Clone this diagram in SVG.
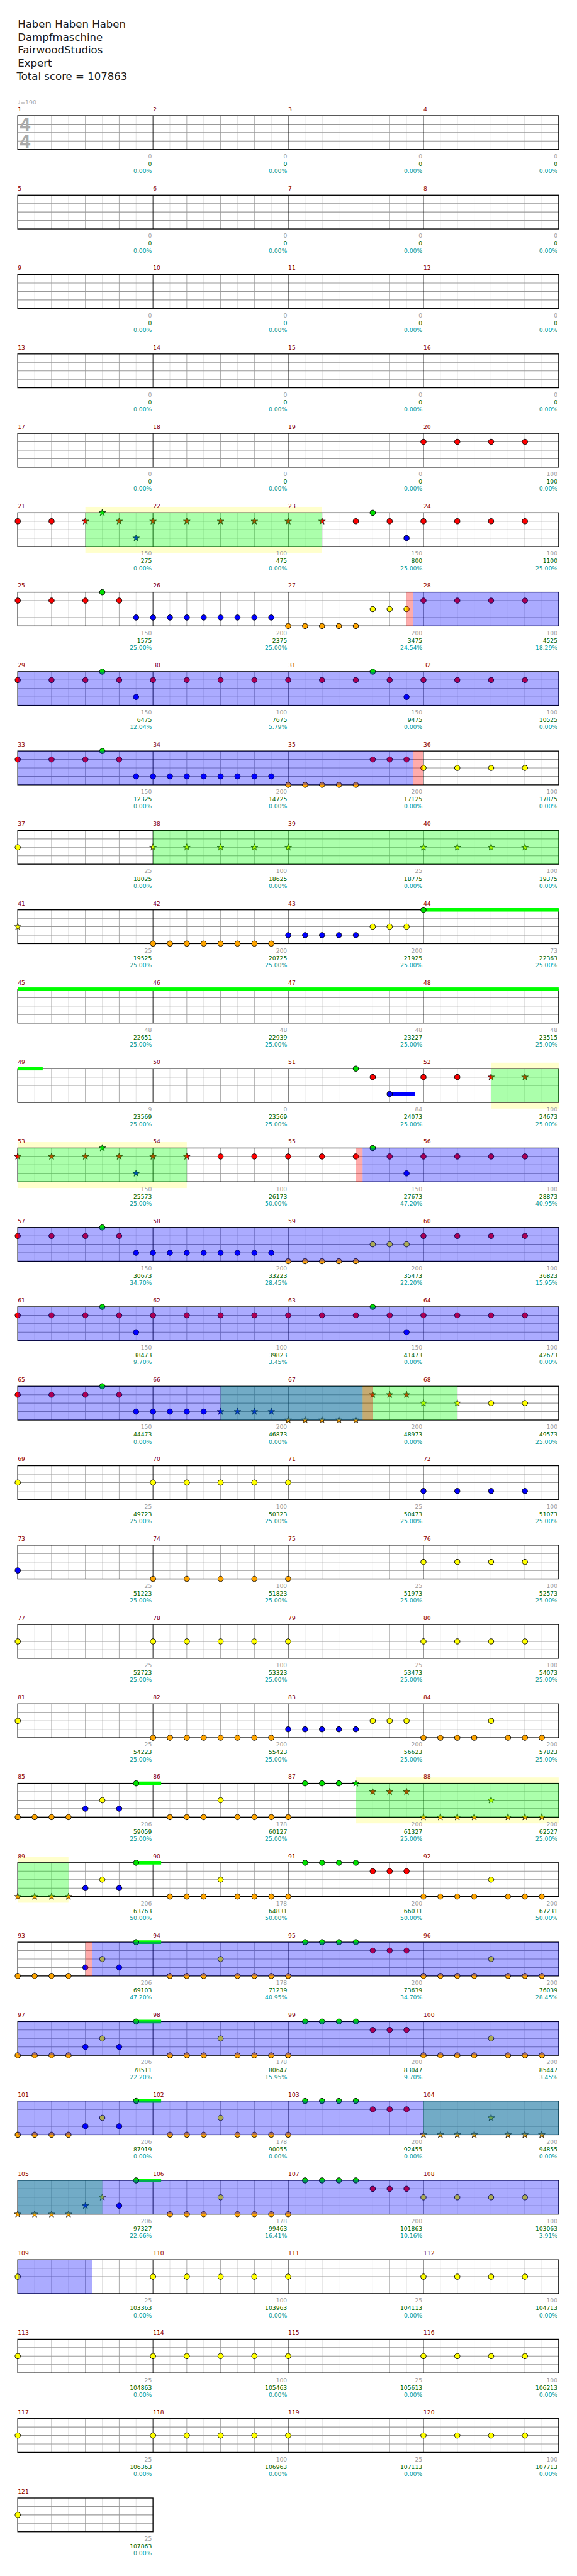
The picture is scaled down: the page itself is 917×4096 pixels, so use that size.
<svg xmlns="http://www.w3.org/2000/svg" width="917" height="4096" viewBox="0 0 917 4096">
<style>
text{font-family:"DejaVu Sans","Liberation Sans",sans-serif}
.ttl text{font-size:18.5px;fill:#1a1a1a}
.mn{font-size:10.3px;fill:#8b0000}
.nb{font-size:10.3px;text-anchor:end}
.ta{fill:#a0a0a0}.tb{fill:#006400}.tc{fill:#009999}
.tp{font-size:10.5px;fill:#aaa}
.tsg{font-family:"Liberation Sans",Arial,sans-serif;font-weight:bold;font-size:34px;fill:#aaa}
.kg{fill:#00e000}.kr{fill:#f00}.ky{fill:#ff0}.kb{fill:#00f}.ko{fill:#ffa500}
.vg{fill:#0f0;opacity:.33}.vb{fill:#00f;opacity:.33}.vr{fill:#f00;opacity:.33}
.yb{fill:#ffffcc}.sg{fill:#0f0}.sb{fill:#00f}
</style>
<defs>
<circle id="c" r="4.8" stroke="#000" stroke-width="1"/>
<path id="s" d="M0-6.3L1.47-2.02L5.99-1.95L2.38 0.77L3.7 5.1L0 2.5L-3.7 5.1L-2.38 0.77L-5.99-1.95L-1.47-2.02Z" stroke="#000" stroke-width="0.8"/>
<g id="g4">
<rect x="31.5" y="0" width="960" height="60" fill="#fff"/>
<path d="M61.5 0V60M121.5 0V60M181.5 0V60M241.5 0V60M301.5 0V60M361.5 0V60M421.5 0V60M481.5 0V60M541.5 0V60M601.5 0V60M661.5 0V60M721.5 0V60M781.5 0V60M841.5 0V60M901.5 0V60M961.5 0V60" stroke="#dedede"/>
<path d="M91.5 0V60M151.5 0V60M211.5 0V60M331.5 0V60M391.5 0V60M451.5 0V60M571.5 0V60M631.5 0V60M691.5 0V60M811.5 0V60M871.5 0V60M931.5 0V60" stroke="#a0a0a0"/>
<path d="M31.5 15H991.5M31.5 30H991.5M31.5 45H991.5" stroke="#999" stroke-width="1.2"/>
<path d="M271.5 0V60M511.5 0V60M751.5 0V60" stroke="#000"/>
<rect x="31.5" y="0" width="960" height="60" fill="none" stroke="#000" stroke-width="1.5"/>
</g>
<g id="g1">
<rect x="31.5" y="0" width="240" height="60" fill="#fff"/>
<path d="M61.5 0V60M121.5 0V60M181.5 0V60M241.5 0V60" stroke="#dedede"/>
<path d="M91.5 0V60M151.5 0V60M211.5 0V60" stroke="#a0a0a0"/>
<path d="M31.5 15H271.5M31.5 30H271.5M31.5 45H271.5" stroke="#999" stroke-width="1.2"/>
<rect x="31.5" y="0" width="240" height="60" fill="none" stroke="#000" stroke-width="1.5"/>
</g>
<g id="a0"><use href="#c" x="31.5" y="15" class="kr"/><use href="#c" x="91.5" y="15" class="kr"/><use href="#c" x="151.5" y="15" class="kr"/><use href="#c" x="181.5" y="0" class="kg"/><use href="#c" x="211.5" y="15" class="kr"/></g>
<g id="a1"><use href="#c" x="241.5" y="45" class="kb"/><use href="#c" x="271.5" y="45" class="kb"/><use href="#c" x="301.5" y="45" class="kb"/><use href="#c" x="331.5" y="45" class="kb"/><use href="#c" x="361.5" y="45" class="kb"/><use href="#c" x="391.5" y="45" class="kb"/><use href="#c" x="421.5" y="45" class="kb"/><use href="#c" x="451.5" y="45" class="kb"/><use href="#c" x="481.5" y="45" class="kb"/></g>
<g id="a2"><use href="#c" x="511.5" y="60" class="ko"/><use href="#c" x="541.5" y="60" class="ko"/><use href="#c" x="571.5" y="60" class="ko"/><use href="#c" x="601.5" y="60" class="ko"/><use href="#c" x="631.5" y="60" class="ko"/></g>
<g id="rr"><use href="#c" x="751.5" y="15" class="kr"/><use href="#c" x="811.5" y="15" class="kr"/><use href="#c" x="871.5" y="15" class="kr"/><use href="#c" x="931.5" y="15" class="kr"/></g>
<g id="yy"><use href="#c" x="751.5" y="30" class="ky"/><use href="#c" x="811.5" y="30" class="ky"/><use href="#c" x="871.5" y="30" class="ky"/><use href="#c" x="931.5" y="30" class="ky"/></g>
<g id="y3"><use href="#c" x="661.5" y="30" class="ky"/><use href="#c" x="691.5" y="30" class="ky"/><use href="#c" x="721.5" y="30" class="ky"/></g>
<g id="y5"><use href="#c" x="271.5" y="30" class="ky"/><use href="#c" x="331.5" y="30" class="ky"/><use href="#c" x="391.5" y="30" class="ky"/><use href="#c" x="451.5" y="30" class="ky"/><use href="#c" x="511.5" y="30" class="ky"/></g>
<g id="o5"><use href="#c" x="271.5" y="60" class="ko"/><use href="#c" x="331.5" y="60" class="ko"/><use href="#c" x="391.5" y="60" class="ko"/><use href="#c" x="451.5" y="60" class="ko"/><use href="#c" x="511.5" y="60" class="ko"/></g>
<g id="o8"><use href="#c" x="271.5" y="60" class="ko"/><use href="#c" x="301.5" y="60" class="ko"/><use href="#c" x="331.5" y="60" class="ko"/><use href="#c" x="361.5" y="60" class="ko"/><use href="#c" x="391.5" y="60" class="ko"/><use href="#c" x="421.5" y="60" class="ko"/><use href="#c" x="451.5" y="60" class="ko"/><use href="#c" x="481.5" y="60" class="ko"/></g>
<g id="b5"><use href="#c" x="511.5" y="45" class="kb"/><use href="#c" x="541.5" y="45" class="kb"/><use href="#c" x="571.5" y="45" class="kb"/><use href="#c" x="601.5" y="45" class="kb"/><use href="#c" x="631.5" y="45" class="kb"/></g>
<g id="pA"><use href="#a0"/><use href="#c" x="241.5" y="45" class="kb"/><use href="#c" x="271.5" y="15" class="kr"/><use href="#c" x="331.5" y="15" class="kr"/><use href="#c" x="391.5" y="15" class="kr"/><use href="#c" x="451.5" y="15" class="kr"/><use href="#c" x="511.5" y="15" class="kr"/><use href="#c" x="571.5" y="15" class="kr"/><use href="#c" x="631.5" y="15" class="kr"/><use href="#c" x="661.5" y="0" class="kg"/><use href="#c" x="691.5" y="15" class="kr"/><use href="#c" x="721.5" y="45" class="kb"/><use href="#rr"/></g>
<g id="ym"><use href="#c" x="31.5" y="30" class="ky"/><use href="#y5"/><use href="#yy"/></g>
<g id="k1"><rect x="241.5" y="-3.2" width="44.5" height="6.4" class="sg"/><use href="#c" x="211.5" y="45" class="kb"/><use href="#c" x="241.5" y="0" class="kg"/><use href="#c" x="301.5" y="60" class="ko"/><use href="#c" x="331.5" y="60" class="ko"/><use href="#c" x="361.5" y="60" class="ko"/><use href="#c" x="391.5" y="30" class="ky"/><use href="#c" x="421.5" y="60" class="ko"/><use href="#c" x="451.5" y="60" class="ko"/><use href="#c" x="481.5" y="60" class="ko"/><use href="#c" x="511.5" y="60" class="ko"/><use href="#c" x="541.5" y="0" class="kg"/><use href="#c" x="571.5" y="0" class="kg"/><use href="#c" x="601.5" y="0" class="kg"/></g>
<g id="kc"><use href="#c" x="151.5" y="45" class="kb"/><use href="#c" x="181.5" y="30" class="ky"/></g>
<g id="k2"><use href="#c" x="631.5" y="0" class="kg"/><use href="#c" x="661.5" y="15" class="kr"/><use href="#c" x="691.5" y="15" class="kr"/><use href="#c" x="721.5" y="15" class="kr"/></g>
<g id="oc4"><use href="#c" x="31.5" y="60" class="ko"/><use href="#c" x="61.5" y="60" class="ko"/><use href="#c" x="91.5" y="60" class="ko"/><use href="#c" x="121.5" y="60" class="ko"/></g>
<g id="os4"><use href="#s" x="31.5" y="60" class="ko"/><use href="#s" x="61.5" y="60" class="ko"/><use href="#s" x="91.5" y="60" class="ko"/><use href="#s" x="121.5" y="60" class="ko"/></g>
<g id="tcc"><use href="#c" x="751.5" y="60" class="ko"/><use href="#c" x="781.5" y="60" class="ko"/><use href="#c" x="811.5" y="60" class="ko"/><use href="#c" x="841.5" y="60" class="ko"/><use href="#c" x="871.5" y="30" class="ky"/><use href="#c" x="901.5" y="60" class="ko"/><use href="#c" x="931.5" y="60" class="ko"/><use href="#c" x="961.5" y="60" class="ko"/></g>
<g id="tss"><use href="#s" x="751.5" y="60" class="ko"/><use href="#s" x="781.5" y="60" class="ko"/><use href="#s" x="811.5" y="60" class="ko"/><use href="#s" x="841.5" y="60" class="ko"/><use href="#s" x="871.5" y="30" class="ky"/><use href="#s" x="901.5" y="60" class="ko"/><use href="#s" x="931.5" y="60" class="ko"/><use href="#s" x="961.5" y="60" class="ko"/></g>
</defs>
<rect width="917" height="4096" fill="#fff"/>
<g transform="scale(0.8955)">
<g id="title" class="ttl">
<text x="31.5" y="49.3">Haben Haben Haben</text>
<text x="31.5" y="72.3">Dampfmaschine</text>
<text x="31.5" y="95.3">FairwoodStudios</text>
<text x="31.5" y="118.3">Expert</text>
<text x="29.5" y="141.3">Total score = 107863</text>
</g>

<g id="row1" transform="translate(0 205.5)">
<use href="#g4"/>
<text class="tsg" x="35" y="27.8">4</text><text class="tsg" x="35" y="57.8">4</text>
<text class="tp" x="31" y="-20">♩=190</text>
<text class="mn" y="-8"><tspan x="31.5">1</tspan><tspan x="271.5">2</tspan><tspan x="511.5">3</tspan><tspan x="751.5">4</tspan></text>
<text class="nb ta" y="76"><tspan x="269.5">0</tspan><tspan x="509.5">0</tspan><tspan x="749.5">0</tspan><tspan x="989.5">0</tspan></text>
<text class="nb tb" y="89.5"><tspan x="269.5">0</tspan><tspan x="509.5">0</tspan><tspan x="749.5">0</tspan><tspan x="989.5">0</tspan></text>
<text class="nb tc" y="102"><tspan x="269.5">0.00%</tspan><tspan x="509.5">0.00%</tspan><tspan x="749.5">0.00%</tspan><tspan x="989.5">0.00%</tspan></text>
</g>

<g id="row5" transform="translate(0 346.5)">
<use href="#g4"/>
<text class="mn" y="-8"><tspan x="31.5">5</tspan><tspan x="271.5">6</tspan><tspan x="511.5">7</tspan><tspan x="751.5">8</tspan></text>
<text class="nb ta" y="76"><tspan x="269.5">0</tspan><tspan x="509.5">0</tspan><tspan x="749.5">0</tspan><tspan x="989.5">0</tspan></text>
<text class="nb tb" y="89.5"><tspan x="269.5">0</tspan><tspan x="509.5">0</tspan><tspan x="749.5">0</tspan><tspan x="989.5">0</tspan></text>
<text class="nb tc" y="102"><tspan x="269.5">0.00%</tspan><tspan x="509.5">0.00%</tspan><tspan x="749.5">0.00%</tspan><tspan x="989.5">0.00%</tspan></text>
</g>

<g id="row9" transform="translate(0 487.5)">
<use href="#g4"/>
<text class="mn" y="-8"><tspan x="31.5">9</tspan><tspan x="271.5">10</tspan><tspan x="511.5">11</tspan><tspan x="751.5">12</tspan></text>
<text class="nb ta" y="76"><tspan x="269.5">0</tspan><tspan x="509.5">0</tspan><tspan x="749.5">0</tspan><tspan x="989.5">0</tspan></text>
<text class="nb tb" y="89.5"><tspan x="269.5">0</tspan><tspan x="509.5">0</tspan><tspan x="749.5">0</tspan><tspan x="989.5">0</tspan></text>
<text class="nb tc" y="102"><tspan x="269.5">0.00%</tspan><tspan x="509.5">0.00%</tspan><tspan x="749.5">0.00%</tspan><tspan x="989.5">0.00%</tspan></text>
</g>

<g id="row13" transform="translate(0 628.5)">
<use href="#g4"/>
<text class="mn" y="-8"><tspan x="31.5">13</tspan><tspan x="271.5">14</tspan><tspan x="511.5">15</tspan><tspan x="751.5">16</tspan></text>
<text class="nb ta" y="76"><tspan x="269.5">0</tspan><tspan x="509.5">0</tspan><tspan x="749.5">0</tspan><tspan x="989.5">0</tspan></text>
<text class="nb tb" y="89.5"><tspan x="269.5">0</tspan><tspan x="509.5">0</tspan><tspan x="749.5">0</tspan><tspan x="989.5">0</tspan></text>
<text class="nb tc" y="102"><tspan x="269.5">0.00%</tspan><tspan x="509.5">0.00%</tspan><tspan x="749.5">0.00%</tspan><tspan x="989.5">0.00%</tspan></text>
</g>

<g id="row17" transform="translate(0 769.5)">
<use href="#g4"/>
<use href="#rr"/>
<text class="mn" y="-8"><tspan x="31.5">17</tspan><tspan x="271.5">18</tspan><tspan x="511.5">19</tspan><tspan x="751.5">20</tspan></text>
<text class="nb ta" y="76"><tspan x="269.5">0</tspan><tspan x="509.5">0</tspan><tspan x="749.5">0</tspan><tspan x="989.5">100</tspan></text>
<text class="nb tb" y="89.5"><tspan x="269.5">0</tspan><tspan x="509.5">0</tspan><tspan x="749.5">0</tspan><tspan x="989.5">100</tspan></text>
<text class="nb tc" y="102"><tspan x="269.5">0.00%</tspan><tspan x="509.5">0.00%</tspan><tspan x="749.5">0.00%</tspan><tspan x="989.5">0.00%</tspan></text>
</g>

<g id="row21" transform="translate(0 910.5)">
<rect x="151.5" y="-10.5" width="420" height="81.5" class="yb"/>
<use href="#g4"/>
<use href="#c" x="31.5" y="15" class="kr"/><use href="#c" x="91.5" y="15" class="kr"/>
<use href="#s" x="151.5" y="15" class="kr"/><use href="#s" x="181.5" y="0" class="kg"/><use href="#s" x="211.5" y="15" class="kr"/><use href="#s" x="241.5" y="45" class="kb"/><use href="#s" x="271.5" y="15" class="kr"/><use href="#s" x="331.5" y="15" class="kr"/><use href="#s" x="391.5" y="15" class="kr"/><use href="#s" x="451.5" y="15" class="kr"/><use href="#s" x="511.5" y="15" class="kr"/><use href="#s" x="571.5" y="15" class="kr"/>
<use href="#c" x="631.5" y="15" class="kr"/><use href="#c" x="661.5" y="0" class="kg"/><use href="#c" x="691.5" y="15" class="kr"/><use href="#c" x="721.5" y="45" class="kb"/>
<use href="#rr"/>
<rect x="151.5" y="0" width="420" height="60" class="vg"/>
<text class="mn" y="-8"><tspan x="31.5">21</tspan><tspan x="271.5">22</tspan><tspan x="511.5">23</tspan><tspan x="751.5">24</tspan></text>
<text class="nb ta" y="76"><tspan x="269.5">150</tspan><tspan x="509.5">100</tspan><tspan x="749.5">150</tspan><tspan x="989.5">100</tspan></text>
<text class="nb tb" y="89.5"><tspan x="269.5">275</tspan><tspan x="509.5">475</tspan><tspan x="749.5">800</tspan><tspan x="989.5">1100</tspan></text>
<text class="nb tc" y="102"><tspan x="269.5">0.00%</tspan><tspan x="509.5">0.00%</tspan><tspan x="749.5">25.00%</tspan><tspan x="989.5">25.00%</tspan></text>
</g>

<g id="row25" transform="translate(0 1051.5)">
<use href="#g4"/>
<use href="#a0"/><use href="#a1"/><use href="#a2"/><use href="#y3"/><use href="#rr"/>
<rect x="721.5" y="0" width="12" height="60" class="vr"/>
<rect x="733.5" y="0" width="258" height="60" class="vb"/>
<text class="mn" y="-8"><tspan x="31.5">25</tspan><tspan x="271.5">26</tspan><tspan x="511.5">27</tspan><tspan x="751.5">28</tspan></text>
<text class="nb ta" y="76"><tspan x="269.5">150</tspan><tspan x="509.5">200</tspan><tspan x="749.5">200</tspan><tspan x="989.5">100</tspan></text>
<text class="nb tb" y="89.5"><tspan x="269.5">1575</tspan><tspan x="509.5">2375</tspan><tspan x="749.5">3475</tspan><tspan x="989.5">4525</tspan></text>
<text class="nb tc" y="102"><tspan x="269.5">25.00%</tspan><tspan x="509.5">25.00%</tspan><tspan x="749.5">24.54%</tspan><tspan x="989.5">18.29%</tspan></text>
</g>

<g id="row29" transform="translate(0 1192.5)">
<use href="#g4"/>
<use href="#pA"/>
<rect x="31.5" y="0" width="960" height="60" class="vb"/>
<text class="mn" y="-8"><tspan x="31.5">29</tspan><tspan x="271.5">30</tspan><tspan x="511.5">31</tspan><tspan x="751.5">32</tspan></text>
<text class="nb ta" y="76"><tspan x="269.5">150</tspan><tspan x="509.5">100</tspan><tspan x="749.5">150</tspan><tspan x="989.5">100</tspan></text>
<text class="nb tb" y="89.5"><tspan x="269.5">6475</tspan><tspan x="509.5">7675</tspan><tspan x="749.5">9475</tspan><tspan x="989.5">10525</tspan></text>
<text class="nb tc" y="102"><tspan x="269.5">12.04%</tspan><tspan x="509.5">5.79%</tspan><tspan x="749.5">0.00%</tspan><tspan x="989.5">0.00%</tspan></text>
</g>

<g id="row33" transform="translate(0 1333.5)">
<use href="#g4"/>
<use href="#a0"/><use href="#a1"/><use href="#a2"/>
<use href="#c" x="661.5" y="15" class="kr"/><use href="#c" x="691.5" y="15" class="kr"/><use href="#c" x="721.5" y="15" class="kr"/>
<use href="#yy"/>
<rect x="31.5" y="0" width="702" height="60" class="vb"/>
<rect x="733.5" y="0" width="18" height="60" class="vr"/>
<text class="mn" y="-8"><tspan x="31.5">33</tspan><tspan x="271.5">34</tspan><tspan x="511.5">35</tspan><tspan x="751.5">36</tspan></text>
<text class="nb ta" y="76"><tspan x="269.5">150</tspan><tspan x="509.5">200</tspan><tspan x="749.5">200</tspan><tspan x="989.5">100</tspan></text>
<text class="nb tb" y="89.5"><tspan x="269.5">12325</tspan><tspan x="509.5">14725</tspan><tspan x="749.5">17125</tspan><tspan x="989.5">17875</tspan></text>
<text class="nb tc" y="102"><tspan x="269.5">0.00%</tspan><tspan x="509.5">0.00%</tspan><tspan x="749.5">0.00%</tspan><tspan x="989.5">0.00%</tspan></text>
</g>

<g id="row37" transform="translate(0 1474.5)">
<use href="#g4"/>
<use href="#c" x="31.5" y="30" class="ky"/>
<use href="#s" x="271.5" y="30" class="ky"/><use href="#s" x="331.5" y="30" class="ky"/><use href="#s" x="391.5" y="30" class="ky"/><use href="#s" x="451.5" y="30" class="ky"/><use href="#s" x="511.5" y="30" class="ky"/><use href="#s" x="751.5" y="30" class="ky"/><use href="#s" x="811.5" y="30" class="ky"/><use href="#s" x="871.5" y="30" class="ky"/><use href="#s" x="931.5" y="30" class="ky"/>
<rect x="271.5" y="0" width="720" height="60" class="vg"/>
<text class="mn" y="-8"><tspan x="31.5">37</tspan><tspan x="271.5">38</tspan><tspan x="511.5">39</tspan><tspan x="751.5">40</tspan></text>
<text class="nb ta" y="76"><tspan x="269.5">25</tspan><tspan x="509.5">100</tspan><tspan x="749.5">25</tspan><tspan x="989.5">100</tspan></text>
<text class="nb tb" y="89.5"><tspan x="269.5">18025</tspan><tspan x="509.5">18625</tspan><tspan x="749.5">18775</tspan><tspan x="989.5">19375</tspan></text>
<text class="nb tc" y="102"><tspan x="269.5">0.00%</tspan><tspan x="509.5">0.00%</tspan><tspan x="749.5">0.00%</tspan><tspan x="989.5">0.00%</tspan></text>
</g>

<g id="row41" transform="translate(0 1615.5)">
<use href="#g4"/>
<use href="#s" x="31.5" y="30" class="ky"/>
<use href="#o8"/><use href="#b5"/><use href="#y3"/>
<rect x="751.5" y="-3.2" width="240" height="6.4" class="sg"/>
<use href="#c" x="751.5" y="0" class="kg"/>
<text class="mn" y="-8"><tspan x="31.5">41</tspan><tspan x="271.5">42</tspan><tspan x="511.5">43</tspan><tspan x="751.5">44</tspan></text>
<text class="nb ta" y="76"><tspan x="269.5">25</tspan><tspan x="509.5">200</tspan><tspan x="749.5">200</tspan><tspan x="989.5">73</tspan></text>
<text class="nb tb" y="89.5"><tspan x="269.5">19525</tspan><tspan x="509.5">20725</tspan><tspan x="749.5">21925</tspan><tspan x="989.5">22363</tspan></text>
<text class="nb tc" y="102"><tspan x="269.5">25.00%</tspan><tspan x="509.5">25.00%</tspan><tspan x="749.5">25.00%</tspan><tspan x="989.5">25.00%</tspan></text>
</g>

<g id="row45" transform="translate(0 1756.5)">
<use href="#g4"/>
<rect x="31.5" y="-3.2" width="960" height="6.4" class="sg"/>
<text class="mn" y="-8"><tspan x="31.5">45</tspan><tspan x="271.5">46</tspan><tspan x="511.5">47</tspan><tspan x="751.5">48</tspan></text>
<text class="nb ta" y="76"><tspan x="269.5">48</tspan><tspan x="509.5">48</tspan><tspan x="749.5">48</tspan><tspan x="989.5">48</tspan></text>
<text class="nb tb" y="89.5"><tspan x="269.5">22651</tspan><tspan x="509.5">22939</tspan><tspan x="749.5">23227</tspan><tspan x="989.5">23515</tspan></text>
<text class="nb tc" y="102"><tspan x="269.5">25.00%</tspan><tspan x="509.5">25.00%</tspan><tspan x="749.5">25.00%</tspan><tspan x="989.5">25.00%</tspan></text>
</g>

<g id="row49" transform="translate(0 1897.5)">
<rect x="871.5" y="-10.5" width="120" height="81.5" class="yb"/>
<use href="#g4"/>
<rect x="31.5" y="-3.2" width="44.3" height="6.4" class="sg"/>
<use href="#c" x="631.5" y="0" class="kg"/><use href="#c" x="661.5" y="15" class="kr"/>
<rect x="691.5" y="41.5" width="44.5" height="7" class="sb"/>
<use href="#c" x="691.5" y="45" class="kb"/>
<use href="#c" x="751.5" y="15" class="kr"/><use href="#c" x="811.5" y="15" class="kr"/>
<use href="#s" x="871.5" y="15" class="kr"/><use href="#s" x="931.5" y="15" class="kr"/>
<rect x="871.5" y="0" width="120" height="60" class="vg"/>
<text class="mn" y="-8"><tspan x="31.5">49</tspan><tspan x="271.5">50</tspan><tspan x="511.5">51</tspan><tspan x="751.5">52</tspan></text>
<text class="nb ta" y="76"><tspan x="269.5">9</tspan><tspan x="509.5">0</tspan><tspan x="749.5">84</tspan><tspan x="989.5">100</tspan></text>
<text class="nb tb" y="89.5"><tspan x="269.5">23569</tspan><tspan x="509.5">23569</tspan><tspan x="749.5">24073</tspan><tspan x="989.5">24673</tspan></text>
<text class="nb tc" y="102"><tspan x="269.5">25.00%</tspan><tspan x="509.5">25.00%</tspan><tspan x="749.5">25.00%</tspan><tspan x="989.5">25.00%</tspan></text>
</g>

<g id="row53" transform="translate(0 2038.5)">
<rect x="31.5" y="-10.5" width="300" height="81.5" class="yb"/>
<use href="#g4"/>
<use href="#s" x="31.5" y="15" class="kr"/><use href="#s" x="91.5" y="15" class="kr"/><use href="#s" x="151.5" y="15" class="kr"/><use href="#s" x="181.5" y="0" class="kg"/><use href="#s" x="211.5" y="15" class="kr"/><use href="#s" x="241.5" y="45" class="kb"/><use href="#s" x="271.5" y="15" class="kr"/><use href="#s" x="331.5" y="15" class="kr"/>
<use href="#c" x="391.5" y="15" class="kr"/><use href="#c" x="451.5" y="15" class="kr"/><use href="#c" x="511.5" y="15" class="kr"/><use href="#c" x="571.5" y="15" class="kr"/><use href="#c" x="631.5" y="15" class="kr"/>
<use href="#c" x="661.5" y="0" class="kg"/><use href="#c" x="691.5" y="15" class="kr"/><use href="#c" x="721.5" y="45" class="kb"/>
<use href="#rr"/>
<rect x="31.5" y="0" width="300" height="60" class="vg"/>
<rect x="631.5" y="0" width="12" height="60" class="vr"/>
<rect x="643.5" y="0" width="348" height="60" class="vb"/>
<text class="mn" y="-8"><tspan x="31.5">53</tspan><tspan x="271.5">54</tspan><tspan x="511.5">55</tspan><tspan x="751.5">56</tspan></text>
<text class="nb ta" y="76"><tspan x="269.5">150</tspan><tspan x="509.5">100</tspan><tspan x="749.5">150</tspan><tspan x="989.5">100</tspan></text>
<text class="nb tb" y="89.5"><tspan x="269.5">25573</tspan><tspan x="509.5">26173</tspan><tspan x="749.5">27673</tspan><tspan x="989.5">28873</tspan></text>
<text class="nb tc" y="102"><tspan x="269.5">25.00%</tspan><tspan x="509.5">50.00%</tspan><tspan x="749.5">47.20%</tspan><tspan x="989.5">40.95%</tspan></text>
</g>

<g id="row57" transform="translate(0 2179.5)">
<use href="#g4"/>
<use href="#a0"/><use href="#a1"/><use href="#a2"/><use href="#y3"/><use href="#rr"/>
<rect x="31.5" y="0" width="960" height="60" class="vb"/>
<text class="mn" y="-8"><tspan x="31.5">57</tspan><tspan x="271.5">58</tspan><tspan x="511.5">59</tspan><tspan x="751.5">60</tspan></text>
<text class="nb ta" y="76"><tspan x="269.5">150</tspan><tspan x="509.5">200</tspan><tspan x="749.5">200</tspan><tspan x="989.5">100</tspan></text>
<text class="nb tb" y="89.5"><tspan x="269.5">30673</tspan><tspan x="509.5">33223</tspan><tspan x="749.5">35473</tspan><tspan x="989.5">36823</tspan></text>
<text class="nb tc" y="102"><tspan x="269.5">34.70%</tspan><tspan x="509.5">28.45%</tspan><tspan x="749.5">22.20%</tspan><tspan x="989.5">15.95%</tspan></text>
</g>

<g id="row61" transform="translate(0 2320.5)">
<use href="#g4"/>
<use href="#pA"/>
<rect x="31.5" y="0" width="960" height="60" class="vb"/>
<text class="mn" y="-8"><tspan x="31.5">61</tspan><tspan x="271.5">62</tspan><tspan x="511.5">63</tspan><tspan x="751.5">64</tspan></text>
<text class="nb ta" y="76"><tspan x="269.5">150</tspan><tspan x="509.5">100</tspan><tspan x="749.5">150</tspan><tspan x="989.5">100</tspan></text>
<text class="nb tb" y="89.5"><tspan x="269.5">38473</tspan><tspan x="509.5">39823</tspan><tspan x="749.5">41473</tspan><tspan x="989.5">42673</tspan></text>
<text class="nb tc" y="102"><tspan x="269.5">9.70%</tspan><tspan x="509.5">3.45%</tspan><tspan x="749.5">0.00%</tspan><tspan x="989.5">0.00%</tspan></text>
</g>

<g id="row65" transform="translate(0 2461.5)">
<use href="#g4"/>
<use href="#a0"/>
<use href="#c" x="241.5" y="45" class="kb"/><use href="#c" x="271.5" y="45" class="kb"/><use href="#c" x="301.5" y="45" class="kb"/><use href="#c" x="331.5" y="45" class="kb"/><use href="#c" x="361.5" y="45" class="kb"/>
<use href="#s" x="391.5" y="45" class="kb"/><use href="#s" x="421.5" y="45" class="kb"/><use href="#s" x="451.5" y="45" class="kb"/><use href="#s" x="481.5" y="45" class="kb"/>
<use href="#s" x="511.5" y="60" class="ko"/><use href="#s" x="541.5" y="60" class="ko"/><use href="#s" x="571.5" y="60" class="ko"/><use href="#s" x="601.5" y="60" class="ko"/><use href="#s" x="631.5" y="60" class="ko"/>
<use href="#s" x="661.5" y="15" class="kr"/><use href="#s" x="691.5" y="15" class="kr"/><use href="#s" x="721.5" y="15" class="kr"/>
<use href="#s" x="751.5" y="30" class="ky"/><use href="#s" x="811.5" y="30" class="ky"/>
<use href="#c" x="871.5" y="30" class="ky"/><use href="#c" x="931.5" y="30" class="ky"/>
<rect x="391.5" y="0" width="420" height="60" class="vg"/>
<rect x="643.5" y="0" width="18" height="60" class="vr"/>
<rect x="31.5" y="0" width="612" height="60" class="vb"/>
<text class="mn" y="-8"><tspan x="31.5">65</tspan><tspan x="271.5">66</tspan><tspan x="511.5">67</tspan><tspan x="751.5">68</tspan></text>
<text class="nb ta" y="76"><tspan x="269.5">150</tspan><tspan x="509.5">200</tspan><tspan x="749.5">200</tspan><tspan x="989.5">100</tspan></text>
<text class="nb tb" y="89.5"><tspan x="269.5">44473</tspan><tspan x="509.5">46873</tspan><tspan x="749.5">48973</tspan><tspan x="989.5">49573</tspan></text>
<text class="nb tc" y="102"><tspan x="269.5">0.00%</tspan><tspan x="509.5">0.00%</tspan><tspan x="749.5">0.00%</tspan><tspan x="989.5">25.00%</tspan></text>
</g>

<g id="row69" transform="translate(0 2602.5)">
<use href="#g4"/>
<use href="#c" x="31.5" y="30" class="ky"/><use href="#y5"/>
<use href="#c" x="751.5" y="45" class="kb"/><use href="#c" x="811.5" y="45" class="kb"/><use href="#c" x="871.5" y="45" class="kb"/><use href="#c" x="931.5" y="45" class="kb"/>
<text class="mn" y="-8"><tspan x="31.5">69</tspan><tspan x="271.5">70</tspan><tspan x="511.5">71</tspan><tspan x="751.5">72</tspan></text>
<text class="nb ta" y="76"><tspan x="269.5">25</tspan><tspan x="509.5">100</tspan><tspan x="749.5">25</tspan><tspan x="989.5">100</tspan></text>
<text class="nb tb" y="89.5"><tspan x="269.5">49723</tspan><tspan x="509.5">50323</tspan><tspan x="749.5">50473</tspan><tspan x="989.5">51073</tspan></text>
<text class="nb tc" y="102"><tspan x="269.5">25.00%</tspan><tspan x="509.5">25.00%</tspan><tspan x="749.5">25.00%</tspan><tspan x="989.5">25.00%</tspan></text>
</g>

<g id="row73" transform="translate(0 2743.5)">
<use href="#g4"/>
<use href="#c" x="31.5" y="45" class="kb"/><use href="#o5"/><use href="#yy"/>
<text class="mn" y="-8"><tspan x="31.5">73</tspan><tspan x="271.5">74</tspan><tspan x="511.5">75</tspan><tspan x="751.5">76</tspan></text>
<text class="nb ta" y="76"><tspan x="269.5">25</tspan><tspan x="509.5">100</tspan><tspan x="749.5">25</tspan><tspan x="989.5">100</tspan></text>
<text class="nb tb" y="89.5"><tspan x="269.5">51223</tspan><tspan x="509.5">51823</tspan><tspan x="749.5">51973</tspan><tspan x="989.5">52573</tspan></text>
<text class="nb tc" y="102"><tspan x="269.5">25.00%</tspan><tspan x="509.5">25.00%</tspan><tspan x="749.5">25.00%</tspan><tspan x="989.5">25.00%</tspan></text>
</g>

<g id="row77" transform="translate(0 2884.5)">
<use href="#g4"/>
<use href="#ym"/>
<text class="mn" y="-8"><tspan x="31.5">77</tspan><tspan x="271.5">78</tspan><tspan x="511.5">79</tspan><tspan x="751.5">80</tspan></text>
<text class="nb ta" y="76"><tspan x="269.5">25</tspan><tspan x="509.5">100</tspan><tspan x="749.5">25</tspan><tspan x="989.5">100</tspan></text>
<text class="nb tb" y="89.5"><tspan x="269.5">52723</tspan><tspan x="509.5">53323</tspan><tspan x="749.5">53473</tspan><tspan x="989.5">54073</tspan></text>
<text class="nb tc" y="102"><tspan x="269.5">25.00%</tspan><tspan x="509.5">25.00%</tspan><tspan x="749.5">25.00%</tspan><tspan x="989.5">25.00%</tspan></text>
</g>

<g id="row81" transform="translate(0 3025.5)">
<use href="#g4"/>
<use href="#c" x="31.5" y="30" class="ky"/><use href="#o8"/><use href="#b5"/><use href="#y3"/><use href="#tcc"/>
<text class="mn" y="-8"><tspan x="31.5">81</tspan><tspan x="271.5">82</tspan><tspan x="511.5">83</tspan><tspan x="751.5">84</tspan></text>
<text class="nb ta" y="76"><tspan x="269.5">25</tspan><tspan x="509.5">200</tspan><tspan x="749.5">200</tspan><tspan x="989.5">200</tspan></text>
<text class="nb tb" y="89.5"><tspan x="269.5">54223</tspan><tspan x="509.5">55423</tspan><tspan x="749.5">56623</tspan><tspan x="989.5">57823</tspan></text>
<text class="nb tc" y="102"><tspan x="269.5">25.00%</tspan><tspan x="509.5">25.00%</tspan><tspan x="749.5">25.00%</tspan><tspan x="989.5">25.00%</tspan></text>
</g>

<g id="row85" transform="translate(0 3166.5)">
<rect x="631.5" y="-10.5" width="360" height="81.5" class="yb"/>
<use href="#g4"/>
<use href="#oc4"/><use href="#kc"/><use href="#k1"/>
<use href="#s" x="631.5" y="0" class="kg"/><use href="#s" x="661.5" y="15" class="kr"/><use href="#s" x="691.5" y="15" class="kr"/><use href="#s" x="721.5" y="15" class="kr"/>
<use href="#tss"/>
<rect x="631.5" y="0" width="360" height="60" class="vg"/>
<text class="mn" y="-8"><tspan x="31.5">85</tspan><tspan x="271.5">86</tspan><tspan x="511.5">87</tspan><tspan x="751.5">88</tspan></text>
<text class="nb ta" y="76"><tspan x="269.5">206</tspan><tspan x="509.5">178</tspan><tspan x="749.5">200</tspan><tspan x="989.5">200</tspan></text>
<text class="nb tb" y="89.5"><tspan x="269.5">59059</tspan><tspan x="509.5">60127</tspan><tspan x="749.5">61327</tspan><tspan x="989.5">62527</tspan></text>
<text class="nb tc" y="102"><tspan x="269.5">25.00%</tspan><tspan x="509.5">25.00%</tspan><tspan x="749.5">25.00%</tspan><tspan x="989.5">25.00%</tspan></text>
</g>

<g id="row89" transform="translate(0 3307.5)">
<rect x="31.5" y="-10.5" width="90" height="81.5" class="yb"/>
<use href="#g4"/>
<use href="#os4"/><use href="#kc"/><use href="#k1"/><use href="#k2"/><use href="#tcc"/>
<rect x="31.5" y="0" width="90" height="60" class="vg"/>
<text class="mn" y="-8"><tspan x="31.5">89</tspan><tspan x="271.5">90</tspan><tspan x="511.5">91</tspan><tspan x="751.5">92</tspan></text>
<text class="nb ta" y="76"><tspan x="269.5">206</tspan><tspan x="509.5">178</tspan><tspan x="749.5">200</tspan><tspan x="989.5">200</tspan></text>
<text class="nb tb" y="89.5"><tspan x="269.5">63763</tspan><tspan x="509.5">64831</tspan><tspan x="749.5">66031</tspan><tspan x="989.5">67231</tspan></text>
<text class="nb tc" y="102"><tspan x="269.5">50.00%</tspan><tspan x="509.5">50.00%</tspan><tspan x="749.5">50.00%</tspan><tspan x="989.5">50.00%</tspan></text>
</g>

<g id="row93" transform="translate(0 3448.5)">
<use href="#g4"/>
<use href="#oc4"/><use href="#kc"/><use href="#k1"/><use href="#k2"/><use href="#tcc"/>
<rect x="151.5" y="0" width="12" height="60" class="vr"/>
<rect x="163.5" y="0" width="828" height="60" class="vb"/>
<text class="mn" y="-8"><tspan x="31.5">93</tspan><tspan x="271.5">94</tspan><tspan x="511.5">95</tspan><tspan x="751.5">96</tspan></text>
<text class="nb ta" y="76"><tspan x="269.5">206</tspan><tspan x="509.5">178</tspan><tspan x="749.5">200</tspan><tspan x="989.5">200</tspan></text>
<text class="nb tb" y="89.5"><tspan x="269.5">69103</tspan><tspan x="509.5">71239</tspan><tspan x="749.5">73639</tspan><tspan x="989.5">76039</tspan></text>
<text class="nb tc" y="102"><tspan x="269.5">47.20%</tspan><tspan x="509.5">40.95%</tspan><tspan x="749.5">34.70%</tspan><tspan x="989.5">28.45%</tspan></text>
</g>

<g id="row97" transform="translate(0 3589.5)">
<use href="#g4"/>
<use href="#oc4"/><use href="#kc"/><use href="#k1"/><use href="#k2"/><use href="#tcc"/>
<rect x="31.5" y="0" width="960" height="60" class="vb"/>
<text class="mn" y="-8"><tspan x="31.5">97</tspan><tspan x="271.5">98</tspan><tspan x="511.5">99</tspan><tspan x="751.5">100</tspan></text>
<text class="nb ta" y="76"><tspan x="269.5">206</tspan><tspan x="509.5">178</tspan><tspan x="749.5">200</tspan><tspan x="989.5">200</tspan></text>
<text class="nb tb" y="89.5"><tspan x="269.5">78511</tspan><tspan x="509.5">80647</tspan><tspan x="749.5">83047</tspan><tspan x="989.5">85447</tspan></text>
<text class="nb tc" y="102"><tspan x="269.5">22.20%</tspan><tspan x="509.5">15.95%</tspan><tspan x="749.5">9.70%</tspan><tspan x="989.5">3.45%</tspan></text>
</g>

<g id="row101" transform="translate(0 3730.5)">
<use href="#g4"/>
<use href="#oc4"/><use href="#kc"/><use href="#k1"/><use href="#k2"/><use href="#tss"/>
<rect x="751.5" y="0" width="240" height="60" class="vg"/>
<rect x="31.5" y="0" width="960" height="60" class="vb"/>
<text class="mn" y="-8"><tspan x="31.5">101</tspan><tspan x="271.5">102</tspan><tspan x="511.5">103</tspan><tspan x="751.5">104</tspan></text>
<text class="nb ta" y="76"><tspan x="269.5">206</tspan><tspan x="509.5">178</tspan><tspan x="749.5">200</tspan><tspan x="989.5">200</tspan></text>
<text class="nb tb" y="89.5"><tspan x="269.5">87919</tspan><tspan x="509.5">90055</tspan><tspan x="749.5">92455</tspan><tspan x="989.5">94855</tspan></text>
<text class="nb tc" y="102"><tspan x="269.5">0.00%</tspan><tspan x="509.5">0.00%</tspan><tspan x="749.5">0.00%</tspan><tspan x="989.5">0.00%</tspan></text>
</g>

<g id="row105" transform="translate(0 3871.5)">
<use href="#g4"/>
<use href="#os4"/>
<use href="#s" x="151.5" y="45" class="kb"/><use href="#s" x="181.5" y="30" class="ky"/>
<use href="#k1"/><use href="#k2"/><use href="#yy"/>
<rect x="31.5" y="0" width="150" height="60" class="vg"/>
<rect x="31.5" y="0" width="960" height="60" class="vb"/>
<text class="mn" y="-8"><tspan x="31.5">105</tspan><tspan x="271.5">106</tspan><tspan x="511.5">107</tspan><tspan x="751.5">108</tspan></text>
<text class="nb ta" y="76"><tspan x="269.5">206</tspan><tspan x="509.5">178</tspan><tspan x="749.5">200</tspan><tspan x="989.5">100</tspan></text>
<text class="nb tb" y="89.5"><tspan x="269.5">97327</tspan><tspan x="509.5">99463</tspan><tspan x="749.5">101863</tspan><tspan x="989.5">103063</tspan></text>
<text class="nb tc" y="102"><tspan x="269.5">22.66%</tspan><tspan x="509.5">16.41%</tspan><tspan x="749.5">10.16%</tspan><tspan x="989.5">3.91%</tspan></text>
</g>

<g id="row109" transform="translate(0 4012.5)">
<use href="#g4"/>
<use href="#ym"/>
<rect x="31.5" y="0" width="132" height="60" class="vb"/>
<text class="mn" y="-8"><tspan x="31.5">109</tspan><tspan x="271.5">110</tspan><tspan x="511.5">111</tspan><tspan x="751.5">112</tspan></text>
<text class="nb ta" y="76"><tspan x="269.5">25</tspan><tspan x="509.5">100</tspan><tspan x="749.5">25</tspan><tspan x="989.5">100</tspan></text>
<text class="nb tb" y="89.5"><tspan x="269.5">103363</tspan><tspan x="509.5">103963</tspan><tspan x="749.5">104113</tspan><tspan x="989.5">104713</tspan></text>
<text class="nb tc" y="102"><tspan x="269.5">0.00%</tspan><tspan x="509.5">0.00%</tspan><tspan x="749.5">0.00%</tspan><tspan x="989.5">0.00%</tspan></text>
</g>

<g id="row113" transform="translate(0 4153.5)">
<use href="#g4"/>
<use href="#ym"/>
<text class="mn" y="-8"><tspan x="31.5">113</tspan><tspan x="271.5">114</tspan><tspan x="511.5">115</tspan><tspan x="751.5">116</tspan></text>
<text class="nb ta" y="76"><tspan x="269.5">25</tspan><tspan x="509.5">100</tspan><tspan x="749.5">25</tspan><tspan x="989.5">100</tspan></text>
<text class="nb tb" y="89.5"><tspan x="269.5">104863</tspan><tspan x="509.5">105463</tspan><tspan x="749.5">105613</tspan><tspan x="989.5">106213</tspan></text>
<text class="nb tc" y="102"><tspan x="269.5">0.00%</tspan><tspan x="509.5">0.00%</tspan><tspan x="749.5">0.00%</tspan><tspan x="989.5">0.00%</tspan></text>
</g>

<g id="row117" transform="translate(0 4294.5)">
<use href="#g4"/>
<use href="#ym"/>
<text class="mn" y="-8"><tspan x="31.5">117</tspan><tspan x="271.5">118</tspan><tspan x="511.5">119</tspan><tspan x="751.5">120</tspan></text>
<text class="nb ta" y="76"><tspan x="269.5">25</tspan><tspan x="509.5">100</tspan><tspan x="749.5">25</tspan><tspan x="989.5">100</tspan></text>
<text class="nb tb" y="89.5"><tspan x="269.5">106363</tspan><tspan x="509.5">106963</tspan><tspan x="749.5">107113</tspan><tspan x="989.5">107713</tspan></text>
<text class="nb tc" y="102"><tspan x="269.5">0.00%</tspan><tspan x="509.5">0.00%</tspan><tspan x="749.5">0.00%</tspan><tspan x="989.5">0.00%</tspan></text>
</g>

<g id="row121" transform="translate(0 4435.5)">
<use href="#g1"/>
<use href="#c" x="31.5" y="30" class="ky"/>
<text class="mn" x="31.5" y="-8">121</text>
<text class="nb ta" x="269.5" y="76">25</text>
<text class="nb tb" x="269.5" y="89.5">107863</text>
<text class="nb tc" x="269.5" y="102">0.00%</text>
</g>
</g>
</svg>
